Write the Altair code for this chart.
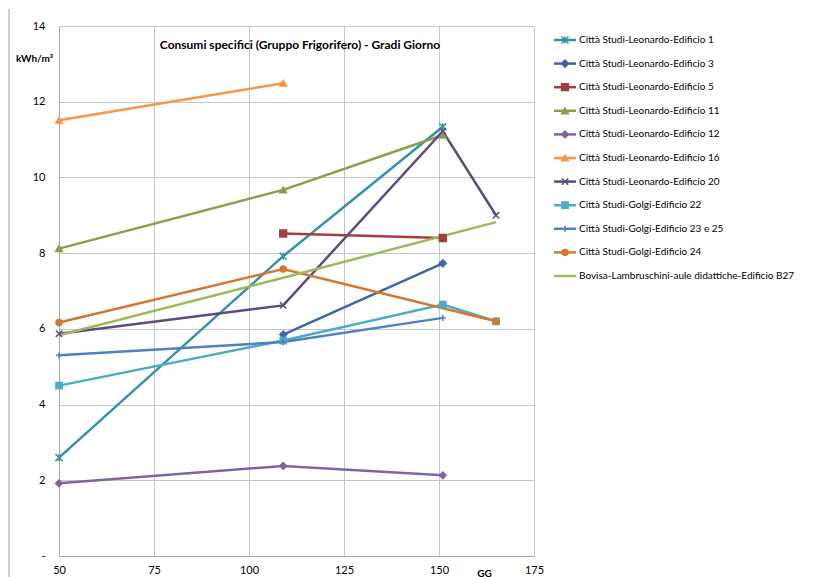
import altair as alt
import pandas as pd

series_names = [
    "Città Studi-Leonardo-Edificio 1",
    "Città Studi-Leonardo-Edificio 3",
    "Città Studi-Leonardo-Edificio 5",
    "Città Studi-Leonardo-Edificio 11",
    "Città Studi-Leonardo-Edificio 12",
    "Città Studi-Leonardo-Edificio 16",
    "Città Studi-Leonardo-Edificio 20",
    "Città Studi-Golgi-Edificio 22",
    "Città Studi-Golgi-Edificio 23 e 25",
    "Città Studi-Golgi-Edificio 24",
    "Bovisa-Lambruschini-aule didattiche-Edificio B27",
]
series_gg = [
    [50, 109, 151],
    [109, 151],
    [109, 151],
    [50, 109, 151],
    [50, 109, 151],
    [50, 109],
    [50, 109, 151, 165],
    [50, 109, 151, 165],
    [50, 109, 151],
    [50, 109, 165],
    [50, 109, 165],
]
series_values = [
    [2.60, 7.92, 11.34],
    [5.85, 7.73],
    [8.52, 8.40],
    [8.12, 9.67, 11.12],
    [1.92, 2.38, 2.13],
    [11.51, 12.49],
    [5.87, 6.62, 11.22, 9.00],
    [4.50, 5.69, 6.64, 6.20],
    [5.30, 5.65, 6.29],
    [6.17, 7.58, 6.20],
    [5.83, 7.35, 8.82],
]
colors = ["#3492A8", "#3F67A5", "#A43E3B", "#86A04B", "#8064A2", "#F79646",
          "#5F4A80", "#4BACC6", "#4F81BD", "#D4772F", "#9BBB59"]
STAR = "M-1,-1L1,1M-1,1L1,-1M0,-1L0,1"
XMARK = "M-1,-1L1,1M-1,1L1,-1"
PLUS = "M-1,0L1,0M0,-1L0,1"
shapes = [STAR, "diamond", "square", "triangle-up", "diamond", "triangle-up",
          XMARK, "square", PLUS, "circle", "none"]
sizes = [50, 36, 64, 60, 50, 60, 60, 64, 60, 70, 0]

x_ticks = [50, 75, 100, 125, 150, 175]
y_ticks = [0, 2, 4, 6, 8, 10, 12, 14]
title_text = "Consumi specifici (Gruppo Frigorifero) - Gradi Giorno"

rows = []
for name, xs, ys in zip(series_names, series_gg, series_values):
    for gx, v in zip(xs, ys):
        rows.append({"series": name, "gg": gx, "value": v})
df = pd.DataFrame(rows)

marked = [n for n, s in zip(series_names, shapes) if s != "none"]
m_shapes = [s for s in shapes if s != "none"]
m_sizes = [z for z, s in zip(sizes, shapes) if s != "none"]
m_colors = [c for c, s in zip(colors, shapes) if s != "none"]

FONT = "Lato"
W, H = 475, 530

color_scale = alt.Scale(domain=series_names, range=colors)
mcolor_scale = alt.Scale(domain=marked, range=m_colors)

x_enc = alt.X("gg:Q", scale=alt.Scale(domain=[50, 175], nice=False, zero=False),
              axis=alt.Axis(values=x_ticks, title="GG", titleX=425, titleY=12,
                            titleBaseline="top", titleFontWeight="bold",
                            titleFontSize=10, labelPadding=8, ticks=False,
                            labelFontSize=11, format="d", labelFlush=False,
                            labelOverlap=False))
y_enc = alt.Y("value:Q", scale=alt.Scale(domain=[0, 14], nice=False),
              axis=alt.Axis(values=y_ticks, title="kWh/m³", titleAngle=0,
                            titleX=-25, titleY=32, titleAlign="center",
                            titleBaseline="middle", titleFontWeight="bold",
                            titleFontSize=10, labelPadding=14, ticks=False,
                            labelFontSize=11, labelFlush=False,
                            labelExpr="datum.value == 0 ? '-' : datum.label"))

lines = alt.Chart(df).mark_line(strokeWidth=2.5).encode(
    x=x_enc, y=y_enc,
    color=alt.Color("series:N", scale=color_scale, legend=None),
    detail="series:N",
)

points = alt.Chart(df[df["series"].isin(marked)]).mark_point(
    filled=True, strokeWidth=1.5, opacity=1).encode(
    x="gg:Q", y="value:Q",
    fill=alt.Fill("series:N", scale=mcolor_scale, legend=None),
    stroke=alt.Stroke("series:N", scale=mcolor_scale, legend=None),
    shape=alt.Shape("series:N", scale=alt.Scale(domain=marked, range=m_shapes), legend=None),
    size=alt.Size("series:N", scale=alt.Scale(domain=marked, range=m_sizes), legend=None),
)

title_layer = alt.Chart(pd.DataFrame({"t": [title_text]})).mark_text(
    fontWeight="bold", fontSize=12, font=FONT, color="black").encode(
    text="t:N", x=alt.value(241), y=alt.value(19))

border = alt.Chart(pd.DataFrame({"a": [0]})).mark_rule(
    color="#9a9a9a", strokeWidth=1, clip=False).encode(
    x=alt.value(-50), y=alt.value(-17), y2=alt.value(552))

main = alt.layer(lines, points, title_layer, border).properties(width=W, height=H)

# legend panel
leg_df = pd.DataFrame({"series": series_names})
leg_y = alt.Y("series:N", scale=alt.Scale(type="point", domain=series_names,
                                          range=[14, 250], padding=0),
              axis=None)
leg_rule = alt.Chart(leg_df).mark_rule(strokeWidth=2.5).encode(
    y=leg_y, x=alt.value(0), x2=alt.value(22),
    color=alt.Color("series:N", scale=color_scale, legend=None))
leg_pts = alt.Chart(leg_df[leg_df["series"].isin(marked)]).mark_point(
    filled=True, strokeWidth=1.5, opacity=1).encode(
    y=leg_y, x=alt.value(11),
    fill=alt.Fill("series:N", scale=mcolor_scale, legend=None),
    stroke=alt.Stroke("series:N", scale=mcolor_scale, legend=None),
    shape=alt.Shape("series:N", scale=alt.Scale(domain=marked, range=m_shapes), legend=None),
    size=alt.Size("series:N", scale=alt.Scale(domain=marked, range=m_sizes), legend=None))
leg_text = alt.Chart(leg_df).mark_text(align="left", baseline="middle", fontSize=10,
                                       font=FONT, color="black").encode(
    y=leg_y, x=alt.value(25), text="series:N")
legend = alt.layer(leg_rule, leg_pts, leg_text).properties(width=235, height=H)

chart = alt.hconcat(main, legend, spacing=20, bounds="flush").resolve_scale(
    color="independent", fill="independent", stroke="independent",
    shape="independent", size="independent", y="independent"
).properties(
    padding={"top": 0, "left": 0, "right": 0, "bottom": 0}
).configure_view(stroke=None).configure_axis(
    gridColor="#C6C6C6", domainColor="#A8A8A8", labelColor="black",
    titleColor="black", labelFont=FONT, titleFont=FONT, gridWidth=1
)

chart.save("out.html", embed_options={"renderer": "svg", "actions": False})
